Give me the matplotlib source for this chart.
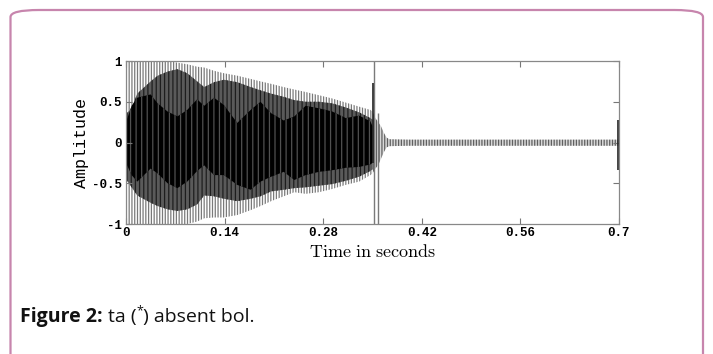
import matplotlib
matplotlib.use("Agg")
import matplotlib.pyplot as plt
from matplotlib.patches import FancyBboxPatch

plt.rcParams['mathtext.fontset'] = 'cm'
plt.rcParams['hatch.linewidth'] = 0.9

# ---- data (envelopes of the waveform) ----
body_t = [0.0, 0.008, 0.016, 0.035, 0.045, 0.059, 0.073, 0.087, 0.101, 0.111,
          0.125, 0.139, 0.158, 0.177, 0.191, 0.206, 0.224, 0.239, 0.255, 0.274,
          0.293, 0.312, 0.331, 0.347, 0.350]
outer_hi = [1.0, 1.0, 1.0, 1.0, 1.0, 1.0, 0.98, 0.96, 0.93, 0.92,
            0.88, 0.85, 0.82, 0.78, 0.75, 0.72, 0.68, 0.65, 0.62, 0.58,
            0.54, 0.49, 0.44, 0.40, 0.38]
outer_lo = [-1.0, -1.0, -1.0, -1.0, -1.0, -1.0, -1.0, -1.0, -0.97, -0.93,
            -0.92, -0.92, -0.89, -0.83, -0.78, -0.72, -0.66, -0.61, -0.63, -0.61,
            -0.57, -0.52, -0.48, -0.40, -0.38]
mid_hi = [0.35, 0.42, 0.60, 0.75, 0.82, 0.87, 0.90, 0.85, 0.75, 0.68,
          0.74, 0.77, 0.74, 0.68, 0.64, 0.60, 0.56, 0.52, 0.50, 0.50,
          0.48, 0.43, 0.37, 0.30, 0.28]
mid_lo = [-0.45, -0.55, -0.65, -0.74, -0.78, -0.82, -0.84, -0.82, -0.76, -0.65,
          -0.66, -0.69, -0.72, -0.69, -0.66, -0.60, -0.58, -0.56, -0.55, -0.53,
          -0.51, -0.47, -0.42, -0.35, -0.33]
core_hi = [0.25, 0.45, 0.55, 0.59, 0.48, 0.38, 0.32, 0.40, 0.53, 0.45,
           0.55, 0.46, 0.24, 0.40, 0.50, 0.36, 0.27, 0.32, 0.45, 0.42,
           0.38, 0.30, 0.33, 0.26, 0.20]
core_lo = [-0.25, -0.40, -0.48, -0.32, -0.38, -0.50, -0.56, -0.48, -0.35, -0.28,
           -0.40, -0.40, -0.52, -0.58, -0.48, -0.42, -0.36, -0.46, -0.40, -0.36,
           -0.34, -0.31, -0.30, -0.27, -0.25]

tail_t = [0.350, 0.354, 0.358, 0.362, 0.366, 0.370, 0.374, 0.40, 0.45, 0.50,
          0.55, 0.60, 0.65, 0.699]
tail_hi = [0.38, 0.30, 0.25, 0.20, 0.12, 0.06, 0.04, 0.035, 0.035, 0.035,
           0.035, 0.035, 0.035, 0.035]
tail_lo = [-0.38, -0.32, -0.28, -0.20, -0.12, -0.06, -0.045, -0.04, -0.04, -0.04,
           -0.04, -0.04, -0.04, -0.04]

gray_spike_t = [0.3515, 0.3575]
gray_spike_lo = [-1.0, -1.0]
gray_spike_hi = [1.0, 0.36]
black_spike_t = [0.351, 0.6985]
black_spike_lo = [-0.25, -0.34]
black_spike_hi = [0.73, 0.28]

x_ticks = [0, 0.14, 0.28, 0.42, 0.56, 0.7]
x_tick_labels = ["0", "0.14", "0.28", "0.42", "0.56", "0.7"]
y_ticks = [-1, -0.5, 0, 0.5, 1]
y_tick_labels = ["-1", "-0.5", "0", "0.5", "1"]

# ---- figure ----
W, H = 713, 354
fig = plt.figure(figsize=(W / 100, H / 100), dpi=100)

# rounded border
border = FancyBboxPatch((10.5 / W, -0.2), (703 - 10.5) / W, (354 - 10) / H + 0.2,
                        boxstyle="round,pad=0,rounding_size=0.04",
                        transform=fig.transFigure, fill=False,
                        edgecolor="#c785ad", linewidth=1.6, mutation_aspect=H / W)
fig.patches.append(border)

ax = fig.add_axes([126 / W, 1 - 224 / H, (619 - 126) / W, (224 - 61) / H])

ax.fill_between(tail_t, tail_lo, tail_hi, facecolor="#d8d8d8", edgecolor="#606060",
                hatch="||||||", linewidth=0)
ax.fill_between(body_t, outer_lo, outer_hi, facecolor="white", edgecolor="#7a7a7a",
                hatch="||||||", linewidth=0)
ax.fill_between(body_t, mid_lo, mid_hi, facecolor="#5a5a5a", edgecolor="#1e1e1e",
                hatch="||||", linewidth=0)
ax.fill_between(body_t, core_lo, core_hi, facecolor="black", edgecolor="#505050",
                hatch="|||", linewidth=0)
ax.vlines(gray_spike_t, gray_spike_lo, gray_spike_hi, color="#7a7a7a", linewidth=1.0)
ax.vlines(black_spike_t, black_spike_lo, black_spike_hi, color="#222222", linewidth=1.2)

ax.set_xlim(0, 0.7)
ax.set_ylim(-1, 1)
ax.set_xticks(x_ticks)
ax.set_xticklabels(x_tick_labels)
ax.set_yticks(y_ticks)
ax.set_yticklabels(y_tick_labels)
for lab in ax.get_xticklabels() + ax.get_yticklabels():
    lab.set_family("Liberation Mono")
    lab.set_fontweight("bold")
    lab.set_fontsize(9)
ax.tick_params(direction="in", top=True, right=True, length=4, width=0.8,
               color="#777777", pad=3)
ax.tick_params(axis="x", pad=2)
for s in ax.spines.values():
    s.set_color("#888888")
    s.set_linewidth(0.9)

ax.set_ylabel("Amplitude", family="Liberation Mono", fontsize=12, labelpad=2)
ax.set_xlabel(r"$\mathrm{Time\ in\ seconds}$", fontsize=13, labelpad=3)

# caption
fs = 14
t1 = fig.text(20 / W, 1 - 322 / H, "Figure 2:", family="Open Sans", fontweight="bold",
              fontsize=fs, color="#111111")
fig.canvas.draw()
r = fig.canvas.get_renderer()
bb = t1.get_window_extent(r)
t2 = fig.text(bb.x1 / W + 5 / W, 1 - 322 / H, "ta (", family="Open Sans",
              fontsize=fs, color="#111111")
bb2 = t2.get_window_extent(r)
t3 = fig.text(bb2.x1 / W, 1 - 314 / H, "*", family="Open Sans",
              fontsize=9, color="#111111")
bb3 = t3.get_window_extent(r)
fig.text(bb3.x1 / W, 1 - 322 / H, ") absent bol.", family="Open Sans",
         fontsize=fs, color="#111111")

fig.savefig("out.png", dpi=100, facecolor="white")
